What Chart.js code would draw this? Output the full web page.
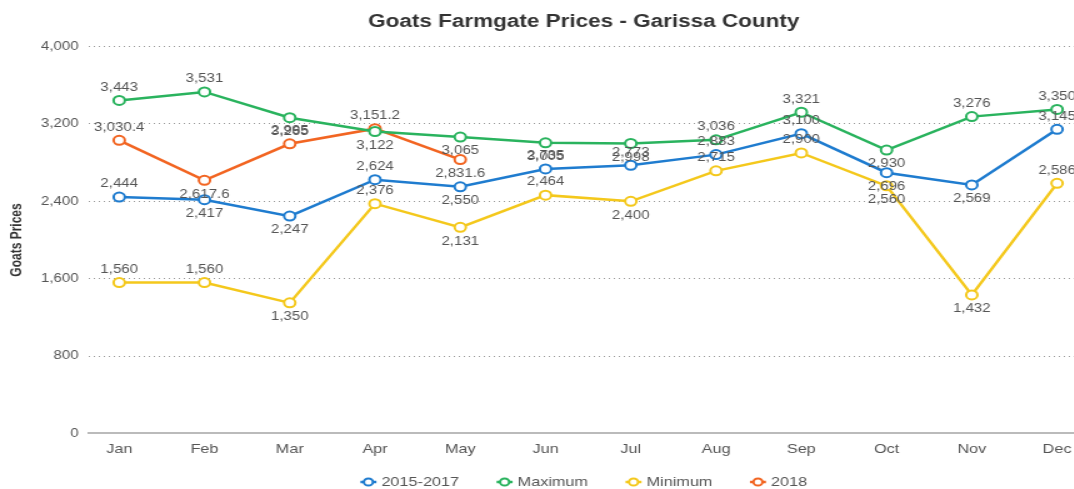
<!DOCTYPE html>
<html>
<head>
<meta charset="utf-8">
<script src="https://cdn.jsdelivr.net/npm/chart.js@4.4.1/dist/chart.umd.min.js"></script>
<style>
  html, body { margin: 0; padding: 0; overflow: hidden; background: #fff; }
  #wrap { width: 1074px; height: 489px; overflow: hidden; }
  /* the reference is a horizontally stretched screenshot */
  #mycanvas { transform: scaleX(1.25); transform-origin: 0 0; }
</style>
</head>
<body>
<div id="wrap"><canvas id="mycanvas" width="934" height="489"></canvas></div>
<script>
var months = ['Jan','Feb','Mar','Apr','May','Jun','Jul','Aug','Sep','Oct','Nov','Dec'];
var avg1517 = [2444, 2417, 2247, 2624, 2550, 2735, 2773, 2883, 3100, 2696, 2569, 3145];
var maximum = [3443, 3531, 3265, 3122, 3065, 3005, 2998, 3036, 3321, 2930, 3276, 3350];
var minimum = [1560, 1560, 1350, 2376, 2131, 2464, 2400, 2715, 2900, 2560, 1432, 2586];
var y2018   = [3030.4, 2617.6, 2995, 3151.2, 2831.6];
var yTicks  = [0, 800, 1600, 2400, 3200, 4000];

var fontFam = '"Liberation Sans", Arial, Helvetica, sans-serif';

function toPoints(arr) {
  var out = [];
  for (var i in arr) out.push({x: Number(i), y: arr[i]});
  return out;
}

function makeSeries(label, color, arr) {
  return {
    label: label,
    data: toPoints(arr),
    borderColor: color,
    backgroundColor: '#fff',
    pointBackgroundColor: '#fff',
    pointBorderColor: color,
    pointBorderWidth: 2,
    pointRadius: 4.5,
    borderWidth: 2.5,
    tension: 0
  };
}

var fmt = new Intl.NumberFormat('en-US', {maximumFractionDigits: 1});

var valueLabels = {
  id: 'valueLabels',
  afterDatasetsDraw: function(chart) {
    var ctx = chart.ctx;
    ctx.save();
    ctx.font = '12px ' + fontFam;
    ctx.fillStyle = '#555';
    ctx.textAlign = 'center';
    ctx.textBaseline = 'middle';
    chart.data.datasets.forEach(function(ds, di) {
      var meta = chart.getDatasetMeta(di);
      meta.data.forEach(function(pt, i) {
        var v = ds.data[i].y;
        var above = i === 0 || v >= ds.data[i - 1].y;
        ctx.fillText(fmt.format(v), pt.x, above ? pt.y - 13 : pt.y + 14);
      });
    });
    ctx.restore();
  }
};

// legend drawn by hand: line + hollow circle, then label
var lineLegend = {
  id: 'lineLegend',
  afterDraw: function(chart) {
    var ctx = chart.ctx;
    var y = 482;
    ctx.save();
    ctx.font = '13px ' + fontFam;
    ctx.textBaseline = 'middle';
    var items = chart.data.datasets.map(function(ds) {
      return {text: ds.label, color: ds.borderColor, w: ctx.measureText(ds.label).width};
    });
    var gap = 30;
    var total = 0;
    items.forEach(function(it, i) { total += 6.4 + 10.4 + it.w + (i < items.length - 1 ? gap : 0); });
    var x = chart.width / 2 - total / 2;
    items.forEach(function(it) {
      var cx = x + 6.4;
      ctx.strokeStyle = it.color; ctx.lineWidth = 2.5;
      ctx.beginPath(); ctx.moveTo(cx - 6.4, y); ctx.lineTo(cx + 6.4, y); ctx.stroke();
      ctx.fillStyle = '#fff'; ctx.lineWidth = 2;
      ctx.beginPath(); ctx.arc(cx, y, 3.6, 0, Math.PI * 2); ctx.fill(); ctx.stroke();
      ctx.fillStyle = '#555';
      ctx.fillText(it.text, cx + 10.4, y);
      x = cx + 10.4 + it.w + gap;
    });
    ctx.restore();
  }
};

var ctx = document.getElementById('mycanvas');
var chart = new Chart(ctx, {
  type: 'line',
  data: {
    datasets: [
      makeSeries('2015-2017', '#1f7ccf', avg1517),
      makeSeries('Maximum', '#2ab35e', maximum),
      makeSeries('Minimum', '#f4c81c', minimum),
      makeSeries('2018', '#f26522', y2018)
    ]
  },
  options: {
    responsive: false,
    animation: false,
    devicePixelRatio: 1,
    layout: { padding: { left: 6.4, right: 6.4, top: 0, bottom: 24 } },
    plugins: {
      title: {
        display: true,
        text: 'Goats Farmgate Prices - Garissa County',
        color: '#333',
        font: { family: fontFam, size: 18, weight: 'bold' },
        padding: { top: 11, bottom: 14 }
      },
      legend: { display: false },
      tooltip: { enabled: false }
    },
    scales: {
      x: {
        type: 'linear',
        min: -0.36,
        max: 12.2,
        afterBuildTicks: function(axis) {
          axis.ticks = months.map(function(m, i) { return {value: i}; });
        },
        ticks: {
          color: '#555',
          font: { family: fontFam, size: 13 },
          padding: 8,
          callback: function(v) { return months[v]; }
        },
        grid: { display: false, drawTicks: false },
        border: { display: true, color: '#bbb', width: 2 }
      },
      y: {
        min: 0,
        max: 4000,
        afterBuildTicks: function(axis) {
          axis.ticks = yTicks.map(function(v) { return {value: v}; });
        },
        ticks: {
          color: '#555',
          font: { family: fontFam, size: 12 },
          padding: 8,
          callback: function(v) { return fmt.format(v); }
        },
        grid: {
          drawTicks: false,
          color: function(c) { return c.tick && c.tick.value === 0 ? 'rgba(0,0,0,0)' : '#999'; },
          lineWidth: 1
        },
        border: { display: false, dash: [1, 3] },
        title: {
          display: true,
          text: 'Goats Prices',
          color: '#333',
          font: { family: fontFam, size: 12, weight: 'bold' },
          padding: { top: 0, bottom: 4 }
        }
      }
    }
  },
  plugins: [valueLabels, lineLegend]
});
</script>
</body>
</html>
